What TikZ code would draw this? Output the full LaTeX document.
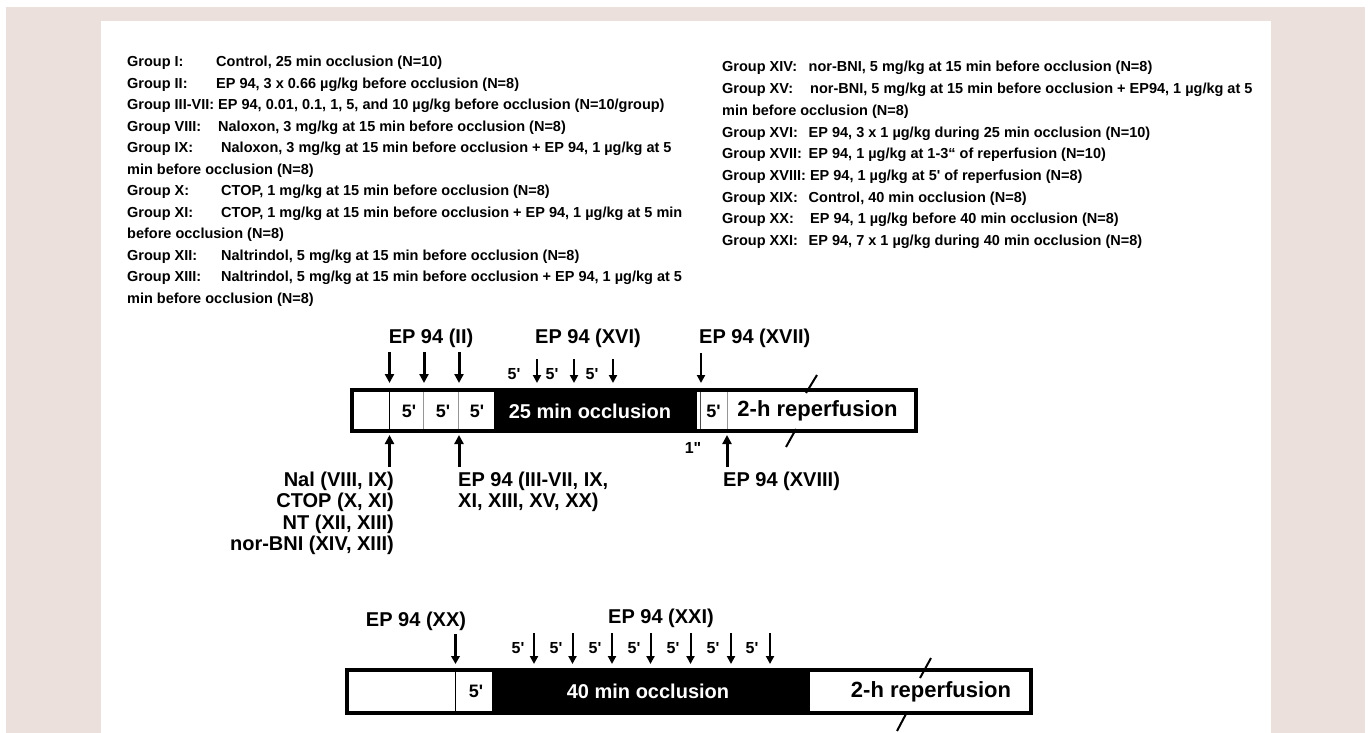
\documentclass[tikz,border=0pt]{standalone}
\usepackage{fontspec}
\setmainfont{Liberation Sans}
\usetikzlibrary{arrows.meta}
\definecolor{bgpink}{RGB}{236,224,220}
\definecolor{divgray}{RGB}{150,150,150}
\newcommand\gfont{\fontsize{14.5}{17}\selectfont\bfseries}
\newcommand\lfont{\fontsize{20}{24}\selectfont\bfseries}
\newcommand\rfont{\fontsize{22}{26}\selectfont\bfseries}
\newcommand\bfont{\fontsize{18}{22}\selectfont\bfseries}
\newcommand\qfont{\fontsize{16}{20}\selectfont\bfseries}
\newcommand\pr{\textquotesingle}
\begin{document}
\begin{tikzpicture}[x=1pt,y=-1pt,
  gtxt/.style={font=\gfont, anchor=base west, inner sep=0pt},
  lbl/.style={font=\lfont, inner sep=0pt},
  rlbl/.style={font=\rfont, inner sep=0pt},
  blbl/.style={font=\bfont, inner sep=0pt},
  qlbl/.style={font=\qfont, inner sep=0pt},
  tharr/.style={line width=3pt, -{Triangle[length=9pt,width=9pt]}},
  tnarr/.style={line width=2pt, -{Triangle[length=8pt,width=8pt]}},
  mdarr/.style={line width=2.2pt, -{Triangle[length=8pt,width=8.5pt]}},
  frame/.style={line width=4pt},
  divider/.style={divgray, line width=1pt},
  brk/.style={line width=2pt}]
\useasboundingbox (0,0) rectangle (1370,733);
\fill[white] (0,0) rectangle (1370,733);
\fill[bgpink] (6,7) rectangle (1365,733);
\fill[white] (101,21) rectangle (1271,733);

% ---------- left column ----------
\node[gtxt] (l0) at (127,66.7) {Group I:};
\node[gtxt] (d0) at (216,66.7) {Control, 25 min occlusion (N=10)};
\node[gtxt] (l1) at (127,88.2) {Group II:};
\node[gtxt] (d1) at (216,88.2) {EP 94, 3 x 0.66 µg/kg before occlusion (N=8)};
\node[gtxt] (l2) at (127,109.7) {Group III-VII: EP 94, 0.01, 0.1, 1, 5, and 10 µg/kg before occlusion (N=10/group)};
\node[gtxt] (l3) at (127,131.2) {Group VIII:};
\node[gtxt] (d3) at (218,131.2) {Naloxon, 3 mg/kg at 15 min before occlusion (N=8)};
\node[gtxt] (l4) at (127,152.7) {Group IX:};
\node[gtxt] (d4) at (221,152.7) {Naloxon, 3 mg/kg at 15 min before occlusion + EP 94, 1 µg/kg at 5};
\node[gtxt] (c4) at (127,174.2) {min before occlusion (N=8)};
\node[gtxt] (l6) at (127,195.7) {Group X:};
\node[gtxt] (d6) at (221,195.7) {CTOP, 1 mg/kg at 15 min before occlusion (N=8)};
\node[gtxt] (l7) at (127,217.2) {Group XI:};
\node[gtxt] (d7) at (221,217.2) {CTOP, 1 mg/kg at 15 min before occlusion + EP 94, 1 µg/kg at 5 min};
\node[gtxt] (c7) at (127,238.7) {before occlusion (N=8)};
\node[gtxt] (l9) at (127,260.2) {Group XII:};
\node[gtxt] (d9) at (221,260.2) {Naltrindol, 5 mg/kg at 15 min before occlusion (N=8)};
\node[gtxt] (l10) at (127,281.7) {Group XIII:};
\node[gtxt] (d10) at (221,281.7) {Naltrindol, 5 mg/kg at 15 min before occlusion + EP 94, 1 µg/kg at 5};
\node[gtxt] (c10) at (127,303.2) {min before occlusion (N=8)};

% ---------- right column ----------
\node[gtxt] (r0) at (722,71.9) {Group XIV:};
\node[gtxt] (e0) at (808.5,71.9) {nor-BNI, 5 mg/kg at 15 min before occlusion (N=8)};
\node[gtxt] (r1) at (722,93.6) {Group XV:};
\node[gtxt] (e1) at (810,93.6) {nor-BNI, 5 mg/kg at 15 min before occlusion + EP94, 1 µg/kg at 5};
\node[gtxt] (q1) at (722,115.3) {min before occlusion (N=8)};
\node[gtxt] (r3) at (722,137) {Group XVI:};
\node[gtxt] (e3) at (808.5,137) {EP 94, 3 x 1 µg/kg during 25 min occlusion (N=10)};
\node[gtxt] (r4) at (722,158.7) {Group XVII:};
\node[gtxt] (e4) at (808.5,158.7) {EP 94, 1 µg/kg at 1-3“ of reperfusion (N=10)};
\node[gtxt] (r5) at (722,180.4) {Group XVIII: EP 94, 1 µg/kg at 5\pr{} of reperfusion (N=8)};
\node[gtxt] (r6) at (722,202.1) {Group XIX:};
\node[gtxt] (e6) at (808.5,202.1) {Control, 40 min occlusion (N=8)};
\node[gtxt] (r7) at (722,223.8) {Group XX:};
\node[gtxt] (e7) at (810,223.8) {EP 94, 1 µg/kg before 40 min occlusion (N=8)};
\node[gtxt] (r8) at (722,245.5) {Group XXI:};
\node[gtxt] (e8) at (808.5,245.5) {EP 94, 7 x 1 µg/kg during 40 min occlusion (N=8)};

% ---------- diagram 1 ----------
\fill[black] (494,390) rectangle (697,431);
\draw[black, line width=1.2pt] (389.5,390) -- (389.5,431);
\draw[divider] (423.5,390) -- (423.5,431);
\draw[divider] (458.5,390) -- (458.5,431);
\draw[black!70, line width=1pt] (700,390) -- (700,431);
\draw[divider] (727,390) -- (727,431);
\draw[frame] (352,390) rectangle (916,431);
\draw[brk] (806,393) -- (817,375);
\draw[brk] (786,447) -- (796,429);

\node[blbl] (b1a) at (409,411) {5\pr};
\node[blbl] (b1b) at (443,411) {5\pr};
\node[blbl] (b1c) at (477,411) {5\pr};
\node[lbl, text=white] (occ1) at (590,411) {25 min occlusion};
\node[blbl] (b1d) at (713.5,411) {5\pr};
\node[rlbl] (rep1) at (817.5,411) {2-h reperfusion};

\node[lbl] (ep2) at (431,338) {EP 94 (II)};
\node[lbl] (ep16) at (588,338) {EP 94 (XVI)};
\node[lbl, anchor=west] (ep17) at (699,338) {EP 94 (XVII)};

\coordinate (a1s) at (389.5,352); \coordinate (a1e) at (389.5,383);
\coordinate (a2s) at (424,352);   \coordinate (a2e) at (424,383);
\coordinate (a3s) at (459,352);   \coordinate (a3e) at (459,383);
\draw[tharr] (a1s) -- (a1e);
\draw[tharr] (a2s) -- (a2e);
\draw[tharr] (a3s) -- (a3e);

\node[qlbl] (f1) at (514,374) {5\pr};
\node[qlbl] (f2) at (552,374) {5\pr};
\node[qlbl] (f3) at (592,374) {5\pr};
\coordinate (x1s) at (537,359); \coordinate (x1e) at (537,383);
\coordinate (x2s) at (574,359); \coordinate (x2e) at (574,383);
\coordinate (x3s) at (613,359); \coordinate (x3e) at (613,383);
\draw[tnarr] (x1s) -- (x1e);
\draw[tnarr] (x2s) -- (x2e);
\draw[tnarr] (x3s) -- (x3e);
\coordinate (x4s) at (701,353); \coordinate (x4e) at (701,383);
\draw[tnarr] (x4s) -- (x4e);

\coordinate (u1s) at (389.5,467); \coordinate (u1e) at (389.5,435);
\coordinate (u2s) at (459,467);   \coordinate (u2e) at (459,435);
\coordinate (u3s) at (727,467);   \coordinate (u3e) at (727,435);
\draw[tharr] (u1s) -- (u1e);
\draw[tharr] (u2s) -- (u2e);
\draw[tharr] (u3s) -- (u3e);

\node[qlbl] (one) at (693,448) {1\textquotedbl};

\node[lbl, anchor=east] (nal) at (394,481) {Nal (VIII, IX)};
\node[lbl, anchor=east] (ctop) at (394,502.5) {CTOP (X, XI)};
\node[lbl, anchor=east] (nt) at (394,524) {NT (XII, XIII)};
\node[lbl, anchor=east] (nbni) at (394,545.5) {nor-BNI (XIV, XIII)};

\node[lbl, anchor=west] (ep3a) at (458,481) {EP 94 (III-VII, IX,};
\node[lbl, anchor=west] (ep3b) at (458,502.5) {XI, XIII, XV, XX)};
\node[lbl, anchor=west] (ep18) at (723,481) {EP 94 (XVIII)};

% ---------- diagram 2 ----------
\fill[black] (491.5,670) rectangle (810,713);
\draw[black, line width=1.2pt] (455.5,670) -- (455.5,713);
\draw[frame] (347,670) rectangle (1031,713);
\draw[brk] (920,678) -- (931,658);
\draw[brk] (897,731) -- (907,712);

\node[blbl] (b2a) at (476,691.5) {5\pr};
\node[lbl, text=white] (occ2) at (648,691.5) {40 min occlusion};
\node[rlbl] (rep2) at (931,691.5) {2-h reperfusion};

\node[lbl] (ep20) at (416,621) {EP 94 (XX)};
\node[lbl] (ep21) at (661,618) {EP 94 (XXI)};
\coordinate (y0s) at (455.5,634); \coordinate (y0e) at (455.5,664);
\draw[mdarr] (y0s) -- (y0e);

\foreach \ax/\lx [count=\i] in {534/518,572.5/556,612/595,650.5/634,690.5/673,731/713,770/752}{
  \node[qlbl] (g\i) at (\lx,648) {5\pr};
  \coordinate (z\i s) at (\ax,633);
  \coordinate (z\i e) at (\ax,664);
  \draw[tnarr] (z\i s) -- (z\i e);
}
\end{tikzpicture}
\end{document}
